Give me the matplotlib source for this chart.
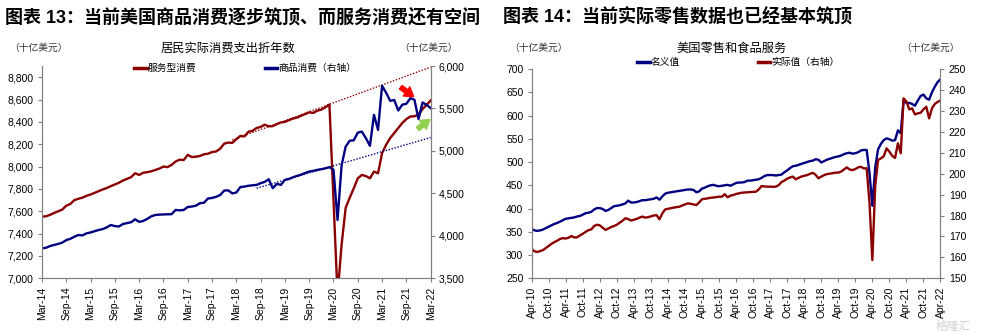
import matplotlib
matplotlib.use("Agg")
import matplotlib.pyplot as plt
from matplotlib.lines import Line2D
from matplotlib.ticker import FuncFormatter
import numpy as np

plt.rcParams["font.family"] = ["Liberation Sans", "Noto Sans CJK SC"]

RED, BLUE, GREY = "#8B0000", "#000080", "#808080"

# ---- chart 13: real PCE, annual rate (Mar-14 .. Mar-22, monthly)
pce_ticks = ["Mar-14", "Sep-14", "Mar-15", "Sep-15", "Mar-16", "Sep-16", "Mar-17", "Sep-17",
             "Mar-18", "Sep-18", "Mar-19", "Sep-19", "Mar-20", "Sep-20", "Mar-21", "Sep-21", "Mar-22"]
services = [7552, 7555, 7568, 7585, 7600, 7615, 7650, 7665, 7700, 7712, 7722, 7738,
            7750, 7765, 7780, 7795, 7808, 7825, 7840, 7855, 7875, 7890, 7905, 7940,
            7925, 7945, 7950, 7958, 7970, 7982, 8000, 7995, 8015, 8045, 8062, 8058,
            8105, 8085, 8088, 8095, 8110, 8115, 8130, 8135, 8160, 8205, 8215, 8212,
            8245, 8275, 8270, 8312, 8320, 8345, 8355, 8375, 8360, 8362, 8380, 8395,
            8400, 8415, 8430, 8438, 8455, 8470, 8485, 8480, 8500, 8510, 8530, 8555,
            7700, 6850, 7300, 7630, 7720, 7805, 7895, 7925, 7915, 7895, 7955, 7940,
            8120, 8195, 8255, 8300, 8345, 8390, 8425, 8448, 8450, 8465, 8515, 8552, 8592]
goods = [3853, 3860, 3880, 3893, 3905, 3920, 3950, 3965, 3990, 4010, 4005, 4030,
         4040, 4055, 4069, 4080, 4100, 4128, 4115, 4110, 4140, 4150, 4160, 4195,
         4165, 4175, 4200, 4230, 4246, 4250, 4252, 4254, 4255, 4305, 4300, 4305,
         4340, 4345, 4355, 4384, 4390, 4440, 4446, 4460, 4480, 4533, 4536, 4500,
         4510, 4575, 4580, 4590, 4595, 4600, 4620, 4635, 4667, 4561, 4612, 4600,
         4659, 4670, 4690, 4706, 4720, 4740, 4757, 4765, 4777, 4785, 4795, 4809,
         4778, 4187, 4830, 5050, 5120, 5125, 5215, 5228, 5150, 5060, 5425, 5248,
         5767, 5685, 5590, 5600, 5476, 5545, 5555, 5622, 5602, 5375, 5570, 5543, 5504]
svc_trend_x, svc_trend_y = [47, 96], [8238, 8890]
goods_trend_x, goods_trend_y = [53, 96], [4561, 5158]

# ---- chart 14: retail & food services (Apr-10 .. Apr-22, monthly)
retail_ticks = ["Apr-10", "Oct-10", "Apr-11", "Oct-11", "Apr-12", "Oct-12", "Apr-13", "Oct-13",
                "Apr-14", "Oct-14", "Apr-15", "Oct-15", "Apr-16", "Oct-16", "Apr-17", "Oct-17",
                "Apr-18", "Oct-18", "Apr-19", "Oct-19", "Apr-20", "Oct-20", "Apr-21", "Oct-21", "Apr-22"]
nominal = [356, 353, 352, 353, 355, 358, 361, 364, 367, 369, 372, 375,
           378, 379, 380, 381, 383, 384, 387, 390, 391, 393, 398, 401,
           401, 399, 395, 397, 401, 405, 406, 407, 409, 411, 417, 413,
           413, 414, 416, 418, 418, 419, 420, 421, 424, 419, 426, 432,
           434, 435, 436, 437, 438, 439, 440, 441, 441, 440, 435, 437,
           443, 445, 448, 450, 451, 449, 448, 449, 450, 451, 449, 452,
           455, 456, 456, 457, 460, 460, 461, 462, 463, 466, 470, 472,
           472, 472, 471, 472, 473, 478, 482, 487, 491, 492, 494, 496,
           498, 500, 502, 503, 506, 505, 499, 502, 505, 507, 509, 511,
           512, 514, 517, 519, 520, 518, 519, 521, 525, 526, 526, 476,
           406, 488, 527, 539, 547, 551, 549, 546, 547, 568, 562, 633,
           627, 627, 625, 621, 632, 642, 645, 637, 634, 650, 662, 672, 678]
real = [164.0, 162.9, 162.6, 163.0, 163.5, 164.5, 165.5, 166.5, 167.3, 168.0, 168.8, 169.2,
        169.0, 169.4, 170.2, 169.5, 169.6, 170.5, 171.3, 172.2, 173.0, 173.4, 175.0, 175.6,
        175.3, 174.2, 173.1, 173.8, 174.5, 175.0, 175.6, 176.6, 177.5, 178.7, 178.3, 177.6,
        178.0, 178.4, 179.0, 179.5, 179.0, 179.2, 179.6, 180.0, 180.2, 178.2, 181.0, 182.9,
        183.2, 183.5, 183.8, 184.0, 184.2, 184.8, 185.3, 185.8, 185.6, 185.3, 185.0, 186.3,
        187.8, 188.0, 188.2, 188.5, 188.6, 188.8, 189.0, 189.0, 190.2, 188.7, 189.5, 189.8,
        190.3, 190.6, 190.9, 191.0, 191.1, 191.2, 191.3, 191.4, 192.5, 194.1, 193.9, 193.8,
        193.8, 193.7, 193.8, 194.5, 196.0, 196.7, 197.6, 198.2, 198.6, 197.3, 198.0, 198.6,
        199.0, 199.3, 199.9, 200.4, 199.5, 197.8, 198.6, 199.3, 199.8, 200.0, 200.2, 200.5,
        200.5, 201.0, 202.0, 203.0, 202.0, 201.7, 202.2, 203.0, 203.3, 202.5, 202.6, 186.0,
        158.7, 194.0, 206.5, 207.3, 208.3, 212.1, 210.5, 208.5, 207.5, 214.5, 209.8, 236.0,
        234.5, 230.7, 231.2, 228.3, 228.8, 229.1, 230.7, 232.0, 226.4, 231.2, 233.3, 234.3, 234.9]

CJK = ["Noto Sans CJK SC", "DejaVu Sans"]
comma = FuncFormatter(lambda v, p: f"{v:,.0f}")
ARROW = "simple,head_width=0.9,head_length=0.7,tail_width=0.35"


def style(ax, axr, n, ticks):
    for a in (ax, axr):
        a.spines["top"].set_visible(False)
        for s in ("left", "right", "bottom"):
            a.spines[s].set_color(GREY)
        a.tick_params(direction="out", length=3, color=GREY, labelsize=7.5, pad=3)
    ax.set_xlim(0, n)
    ax.set_xticks(np.arange(0, n + 1, 6))
    ax.set_xticklabels(ticks, rotation=90)


fig = plt.figure(figsize=(9.81, 3.32), dpi=100)

# left chart
ax1 = fig.add_axes([0.0428, 0.1617, 0.3962, 0.6395])
ax1r = ax1.twinx()
x1 = np.arange(len(services))
ax1.plot(x1, services, color=RED, lw=1.7)
ax1.plot(svc_trend_x, svc_trend_y, color=RED, lw=1.0, ls=(0, (1, 1.2)))
ax1r.plot(x1, goods, color=BLUE, lw=1.7)
ax1r.plot(goods_trend_x, goods_trend_y, color=BLUE, lw=1.0, ls=(0, (1, 1.2)))
ax1.set_ylim(7000, 8900)
ax1.set_yticks(np.arange(7000, 8801, 200))
ax1r.set_ylim(3500, 6000)
ax1r.set_yticks(np.arange(3500, 6001, 500))
ax1.yaxis.set_major_formatter(comma)
ax1r.yaxis.set_major_formatter(comma)
style(ax1, ax1r, 96, pce_ticks)
ax1r.annotate("", xy=(91.8, 5640), xytext=(88.6, 5750), annotation_clip=False,
              arrowprops=dict(arrowstyle=ARROW, color="#FF0000", mutation_scale=9,
                              shrinkA=0, shrinkB=0))
ax1r.annotate("", xy=(95.8, 5370), xytext=(92.8, 5260), annotation_clip=False,
              arrowprops=dict(arrowstyle=ARROW, color="#92D050", mutation_scale=9,
                              shrinkA=0, shrinkB=0))
ax1.legend([Line2D([], [], color=RED, lw=2.5), Line2D([], [], color=BLUE, lw=2.5)],
           ["服务型消费", "商品消费（右轴）"], prop={"family": CJK, "size": 7},
           ncol=2, frameon=False, loc="center left", bbox_to_anchor=(0.237, 0.99),
           handlelength=1.3, handletextpad=0.1, columnspacing=7.0, borderpad=0, borderaxespad=0)

# right chart
ax2 = fig.add_axes([0.542, 0.1617, 0.4167, 0.6304])
ax2r = ax2.twinx()
x2 = np.arange(len(nominal))
ax2.plot(x2, nominal, color=BLUE, lw=1.7)
ax2r.plot(x2, real, color=RED, lw=1.7)
ax2.set_ylim(250, 700)
ax2.set_yticks(np.arange(250, 701, 50))
ax2r.set_ylim(150, 250)
ax2r.set_yticks(np.arange(150, 251, 10))
style(ax2, ax2r, 144, retail_ticks)
ax2.legend([Line2D([], [], color=BLUE, lw=2.5), Line2D([], [], color=RED, lw=2.5)],
           ["名义值", "实际值（右轴）"], prop={"family": CJK, "size": 7},
           ncol=2, frameon=False, loc="center left", bbox_to_anchor=(0.258, 1.033),
           handlelength=1.3, handletextpad=0.1, columnspacing=8.0, borderpad=0, borderaxespad=0)

# titles and unit labels
bold = dict(fontsize=13, fontweight="bold", va="center", ha="left")
fig.text(5 / 981, 1 - 17 / 332, "图表 13：当前美国商品消费逐步筑顶、而服务消费还有空间", **bold)
fig.text(503 / 981, 1 - 17 / 332, "图表 14：当前实际零售数据也已经基本筑顶", **bold)
sub = dict(family=CJK, fontsize=8.8, va="center", ha="center")
fig.text(228 / 981, 1 - 48 / 332, "居民实际消费支出折年数", **sub)
fig.text(732 / 981, 1 - 48 / 332, "美国零售和食品服务", **sub)
unit = dict(family=CJK, fontsize=7, va="center", ha="center", color="#333333")
for xc in (38, 428, 538, 931):
    fig.text(xc / 981, 1 - 48 / 332, "（十亿美元）", **unit)

fig.text(953 / 981, 1 - 326 / 332, "格隆汇", family=CJK, fontsize=8.5, color="#d0d0d0",
         ha="center", va="center")

fig.savefig("out.png", dpi=100)
